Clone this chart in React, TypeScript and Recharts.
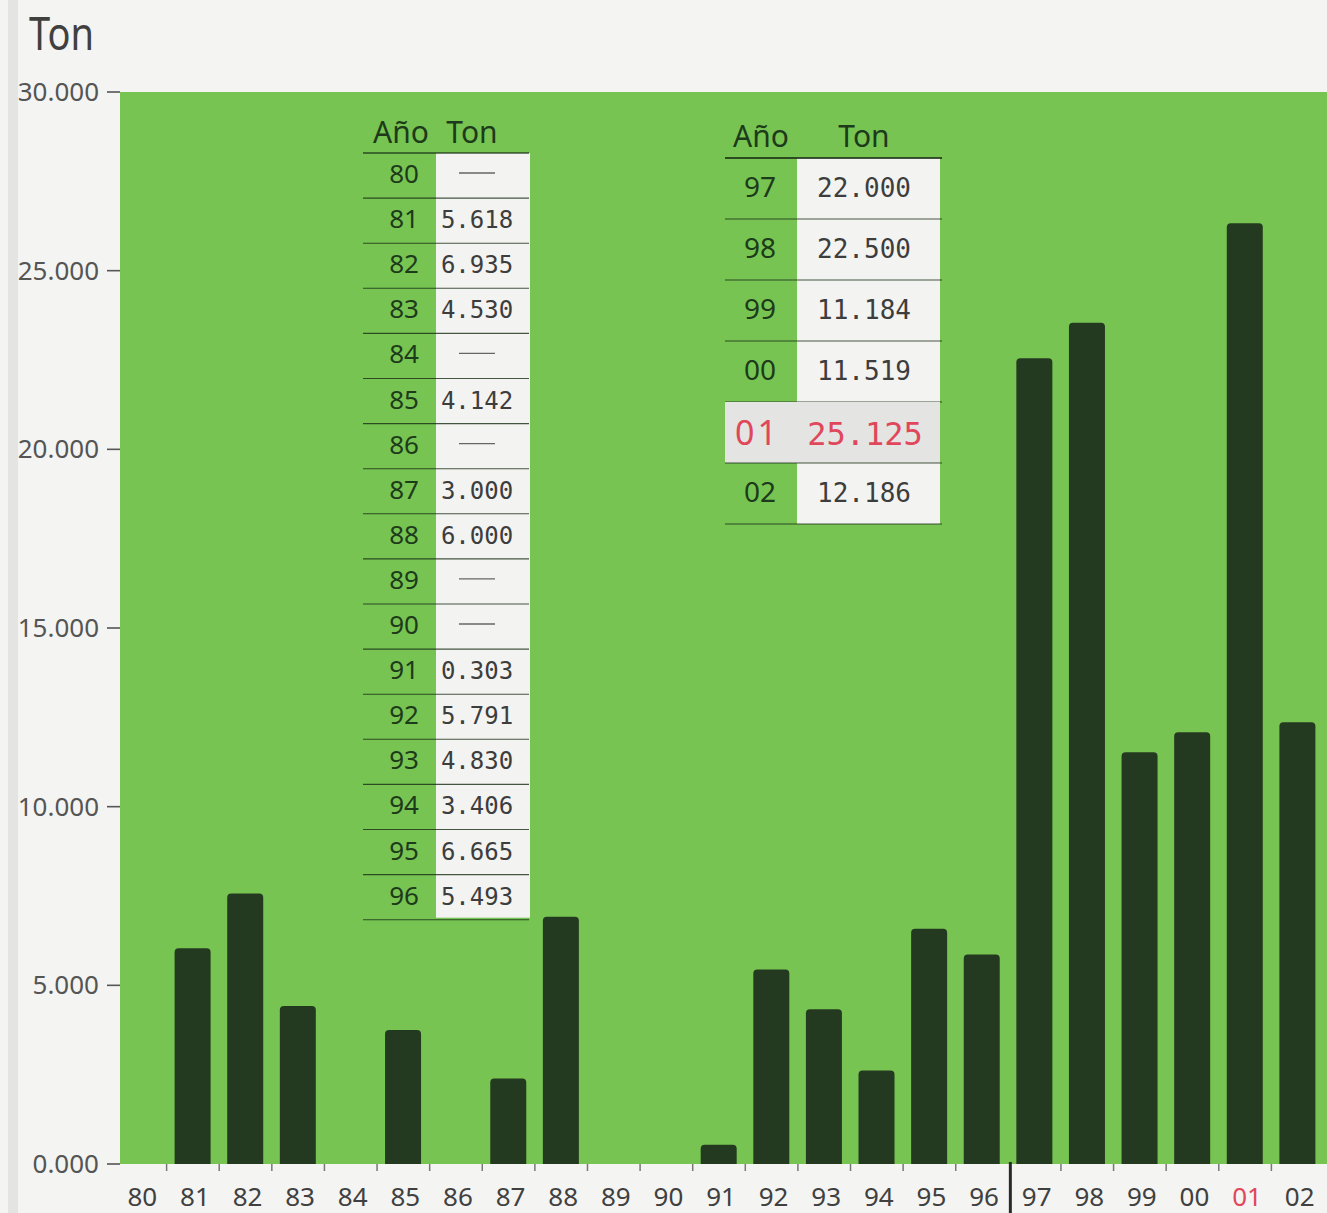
import React from 'react';
import { BarChart, Bar, XAxis, YAxis, Customized } from 'recharts';

// ---------- data ----------
const years = ['80','81','82','83','84','85','86','87','88','89','90','91','92','93','94','95','96','97','98','99','00','01','02'];
// heights of the drawn bars (tons)
const drawnTons: (number | null)[] = [null, 6040, 7570, 4420, null, 3750, null, 2390, 6920, null, null, 540, 5440, 4330, 2620, 6580, 5860, 22550, 23540, 11520, 12080, 26330, 12360];
const yTickValues = [0, 5000, 10000, 15000, 20000, 25000, 30000];
const yTickLabels = ['0.000', '5.000', '10.000', '15.000', '20.000', '25.000', '30.000'];
const highlightYear = '01';
const dividerAfterYear = '96';
const tableHeaders = ['Año', 'Ton'];
const tableAYears = ['80','81','82','83','84','85','86','87','88','89','90','91','92','93','94','95','96'];
const tableATons = ['—','5.618','6.935','4.530','—','4.142','—','3.000','6.000','—','—','0.303','5.791','4.830','3.406','6.665','5.493'];
const tableBYears = ['97','98','99','00','01','02'];
const tableBTons = ['22.000','22.500','11.184','11.519','25.125','12.186'];
const titleText = 'Ton';

// ---------- layout / style ----------
const W = 1327;
const H = 1213;
const MARGIN = { top: 92, right: 3, left: 0, bottom: 0 };
const Y_AXIS_W = 114;
const X_AXIS_H = 49;
const PLOT_W = W - MARGIN.right - Y_AXIS_W;
const PLOT_BOTTOM = H - X_AXIS_H;
const BAND = PLOT_W / years.length;

const FONT = '"Noto Sans", "Open Sans", sans-serif';
const MONO = '"DejaVu Sans Mono", monospace';
const TEXT_GRAY = '#404040';
const RED = '#e0475a';
const YEAR_GREEN = '#1d3a1a';
const BAR_COLOR = '#243a20';
const GREEN = '#77c452';
const PAGE = '#f4f4f2';
const LINE = 'rgba(25,45,22,0.8)';

const data = years.map((y, i) => ({ year: y, ton: drawnTons[i] }));

function XTick(props: any) {
  const { x, payload, index } = props;
  const isLast = index === years.length - 1;
  const bx = x + BAND / 2;
  const thick = payload.value === dividerAfterYear;
  return (
    <g>
      <text x={x + 2} y={PLOT_BOTTOM + 42} textAnchor="middle" fontFamily={FONT} fontSize={26}
        fill={payload.value === highlightYear ? RED : TEXT_GRAY}>{payload.value}</text>
      {!isLast && (thick
        ? <line x1={bx + 2} x2={bx + 2} y1={PLOT_BOTTOM - 2} y2={H} stroke="#2a2a2a" strokeWidth={3} />
        : <line x1={bx} x2={bx} y1={PLOT_BOTTOM} y2={PLOT_BOTTOM + 7} stroke="#777" strokeWidth={1.5} />)}
    </g>
  );
}

function YTick(props: any) {
  const { y, payload } = props;
  const label = yTickLabels[yTickValues.indexOf(payload.value)];
  return (
    <g>
      <text x={99} y={y + 9} textAnchor="end" fontFamily={FONT} fontSize={26} fill="#555">{label}</text>
      <line x1={107} x2={120} y1={y} y2={y} stroke="#555" strokeWidth={1.6} />
    </g>
  );
}

function Tables() {
  // left table
  const aTop = 153, aRow = 45.1, aX1 = 363, aX2 = 529, aWhiteX = 436, aWhiteW = 94;
  const aYearRight = 419, aValCx = 477;
  // right table
  const bTop = 158, bRow = 61, bX1 = 725, bX2 = 942, bWhiteX = 797, bWhiteW = 143;
  const bYearRight = 776, bValCx = 864;
  return (
    <g>
      <text x={29} y={50} fontFamily={FONT} fontSize={45} fill={TEXT_GRAY} textLength={65} lengthAdjust="spacingAndGlyphs">{titleText}</text>

      {/* left table */}
      <rect x={aWhiteX} y={aTop} width={aWhiteW} height={aRow * tableAYears.length - 2} fill="#f3f3f1" />
      <text x={401} y={143} textAnchor="middle" fontFamily={FONT} fontSize={30} fill={YEAR_GREEN}>{tableHeaders[0]}</text>
      <text x={472} y={143} textAnchor="middle" fontFamily={FONT} fontSize={30} fill={YEAR_GREEN}>{tableHeaders[1]}</text>
      <line x1={aX1} x2={aX2} y1={aTop} y2={aTop} stroke={LINE} strokeWidth={1.6} />
      {tableAYears.map((yr, i) => {
        const top = aTop + i * aRow;
        const v = tableATons[i];
        return (
          <g key={yr}>
            <text x={aYearRight} y={top + 30} textAnchor="end" fontFamily={FONT} fontSize={26} fill={YEAR_GREEN}>{yr}</text>
            {v === '—'
              ? <line x1={aValCx - 18} x2={aValCx + 18} y1={top + 20} y2={top + 20} stroke="#666" strokeWidth={1.3} />
              : <text x={aValCx} y={top + 30} textAnchor="middle" fontFamily={MONO} fontSize={24} fill="#3d3d3d">{v}</text>}
            <line x1={aX1} x2={aX2} y1={top + aRow} y2={top + aRow} stroke={LINE} strokeWidth={1.1} />
          </g>
        );
      })}

      {/* right table */}
      <rect x={bWhiteX} y={bTop} width={bWhiteW} height={bRow * tableBYears.length} fill="#f3f3f1" />
      <text x={761} y={147} textAnchor="middle" fontFamily={FONT} fontSize={30} fill={YEAR_GREEN}>{tableHeaders[0]}</text>
      <text x={864} y={147} textAnchor="middle" fontFamily={FONT} fontSize={30} fill={YEAR_GREEN}>{tableHeaders[1]}</text>
      <line x1={bX1} x2={bX2} y1={bTop} y2={bTop} stroke={LINE} strokeWidth={1.8} />
      {tableBYears.map((yr, i) => {
        const top = bTop + i * bRow;
        const hi = yr === highlightYear;
        return (
          <g key={yr}>
            {hi && <rect x={bX1} y={top} width={bWhiteX + bWhiteW - bX1} height={bRow} fill="#e4e4e3" />}
            {hi
              ? <text x={bYearRight + 4} y={top + 43} textAnchor="end" fontFamily={FONT} fontSize={34} letterSpacing={3} fill={RED}>{yr}</text>
              : <text x={bYearRight} y={top + 39} textAnchor="end" fontFamily={FONT} fontSize={28} fill={YEAR_GREEN}>{yr}</text>}
            {hi
              ? <text x={bValCx + 1} y={top + 43} textAnchor="middle" fontFamily={MONO} fontSize={32} fill={RED}>{tableBTons[i]}</text>
              : <text x={bValCx} y={top + 39} textAnchor="middle" fontFamily={MONO} fontSize={26} fill="#3d3d3d">{tableBTons[i]}</text>}
            <line x1={bX1} x2={bX2} y1={top + bRow} y2={top + bRow} stroke={LINE} strokeWidth={1.2} />
          </g>
        );
      })}
    </g>
  );
}

export default function App() {
  return (
    <div style={{ position: 'absolute', left: 0, top: 0, width: W, height: H, background: PAGE, overflow: 'hidden' }}>
      <div style={{ position: 'absolute', left: 8, top: 0, width: 10, height: H, background: '#e4e4e2' }} />
      <div style={{ position: 'absolute', left: 120, top: MARGIN.top, width: W - 120, height: PLOT_BOTTOM - MARGIN.top, background: GREEN }} />
      <div style={{ position: 'absolute', left: 0, top: 0 }}>
        <BarChart width={W} height={H} data={data} margin={MARGIN} barCategoryGap={0}>
          <XAxis dataKey="year" height={X_AXIS_H} interval={0} axisLine={false} tickLine={false} tick={<XTick />} />
          <YAxis type="number" width={Y_AXIS_W} domain={[0, 30000]} ticks={yTickValues} interval={0}
            axisLine={false} tickLine={false} tick={<YTick />} allowDataOverflow />
          <Bar dataKey="ton" fill={BAR_COLOR} barSize={36} radius={[4, 4, 0, 0]} isAnimationActive={false} />
          <Customized component={Tables} />
        </BarChart>
      </div>
    </div>
  );
}
